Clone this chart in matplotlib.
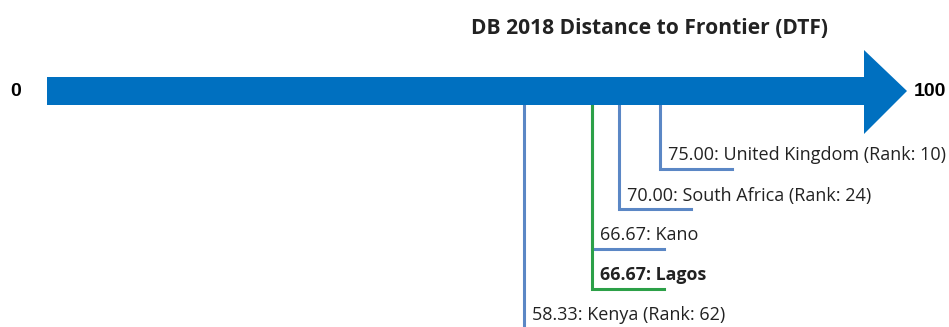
import matplotlib.pyplot as plt
from matplotlib.patches import Polygon

# DTF scores, top of the scale first
names = ['United Kingdom', 'South Africa', 'Kano', 'Lagos', 'Kenya']
scores = [75.00, 70.00, 66.67, 66.67, 58.33]
ranks = [10, 24, None, None, 62]
highlight = 'Lagos'

title = 'DB 2018 Distance to Frontier (DTF)'

arrow_color = '#0070c0'
line_color = '#5b87c5'
hl_color = '#2ca048'
text_color = '#222222'

W, H = 949, 327
fig = plt.figure(figsize=(W / 100, H / 100), dpi=100)
ax = fig.add_axes([0, 0, 1, 1])

# x in DTF units (0 -> 47 px, 100 -> 864 px), y in pixel rows
px_per_unit = 8.17
x0 = 47
ax.set_xlim(-x0 / px_per_unit, (W - x0) / px_per_unit)
ax.set_ylim(H, 0)
ax.axis('off')

# arrow: shaft then head
shaft_top, shaft_bot = 77, 105
head_top, head_bot = 50, 134
mid = (shaft_top + shaft_bot) / 2
head_len = 43 / px_per_unit
arrow = Polygon([(0, shaft_top), (100, shaft_top), (100, head_top),
                 (100 + head_len, mid), (100, head_bot), (100, shaft_bot),
                 (0, shaft_bot)], closed=True, facecolor=arrow_color,
                edgecolor='none', zorder=2)
ax.add_patch(arrow)

ax.text(-3.9, mid + 1, '0', ha='center', va='center', fontsize=14,
        fontweight='bold', family='Liberation Sans', color='black')
ax.text(100 + head_len + 0.8, mid + 1, '100', ha='left', va='center',
        fontsize=14, fontweight='bold', family='Liberation Sans', color='black')

ax.text(73.8, 29, title, ha='center', va='center', fontsize=15.1,
        fontweight='bold', family='Open Sans', color=text_color)

# callouts hanging from the arrow
tail = 72 / px_per_unit
for i, (name, score, rank) in enumerate(zip(names, scores, ranks)):
    depth = 169 + 40 * i
    is_hl = name == highlight
    color = hl_color if is_hl else line_color
    ax.plot([score, score, score + tail], [shaft_bot, depth, depth],
            color=color, lw=2.2, solid_joinstyle='miter', zorder=1)
    label = f'{score:.2f}: {name}'
    if rank is not None:
        label += f' (Rank: {rank})'
    ax.text(score + 8 / px_per_unit, depth - 13.5, label, ha='left',
            va='center', fontsize=12.8 if is_hl else 13, family='Open Sans',
            color=text_color, fontweight='bold' if is_hl else 'normal')

fig.savefig('out.png', dpi=100)
